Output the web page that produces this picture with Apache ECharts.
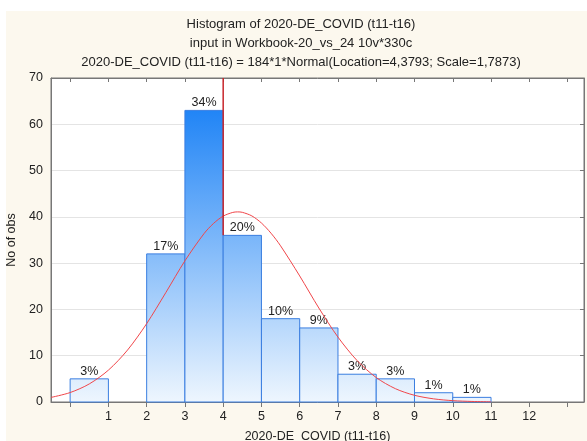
<!DOCTYPE html>
<html>
<head>
<meta charset="utf-8">
<script src="https://cdn.jsdelivr.net/npm/echarts@6/dist/echarts.min.js"></script>
<style>
  html, body { margin: 0; padding: 0; background: #fff; }
  #main { width: 587px; height: 441px; }
</style>
</head>
<body>
<div id="main"></div>
<script>
// histogram bins (left edge, right edge) and counts
var binStart = [0, 2, 3, 4, 5, 6, 7, 8, 9, 10];
var binEnd = [1, 3, 4, 5, 6, 7, 8, 9, 10, 11];
var counts = [5, 32, 63, 36, 18, 16, 6, 5, 2, 1];
var pctLabels = ['3%', '17%', '34%', '20%', '10%', '9%', '3%', '3%', '1%', '1%'];

// fitted normal curve
var curveX = [-0.5, 0, 0.5, 1, 1.5, 2, 2.5, 3, 3.5, 3.75, 4, 4.25, 4.375, 4.5, 4.75, 5, 5.25, 5.5, 6, 6.5, 7, 7.5, 8, 8.5, 9, 9.5, 10, 10.5, 11];
var curveY = [0.99, 2.04, 3.9, 6.88, 11.22, 16.93, 23.63, 30.5, 36.39, 38.6, 40.16, 40.96, 41.07, 40.98, 40.2, 38.67, 36.47, 33.74, 27.23, 20.31, 14.02, 8.95, 5.28, 2.88, 1.45, 0.68, 0.29, 0.12, 0.04];

// red marker line
var markX = [4, 4];
var markY = [36, 70];

var xTicks = [0, 1, 2, 3, 4, 5, 6, 7, 8, 9, 10, 11, 12, 13];
var xLabels = [1, 2, 3, 4, 5, 6, 7, 8, 9, 10, 11, 12];

var titleLines = [
    'Histogram of 2020-DE_COVID (t11-t16)',
    'input in Workbook-20_vs_24 10v*330c',
    '2020-DE_COVID (t11-t16) = 184*1*Normal(Location=4,3793; Scale=1,7873)'
];

var FONT = '"Liberation Sans", Arial, sans-serif';

var barData = [];
for (var i = 0; i < counts.length; i++) {
    barData.push([binStart[i], binEnd[i], counts[i]]);
}
var curveData = [];
for (var j = 0; j < curveX.length; j++) {
    curveData.push([curveX[j], curveY[j]]);
}
var markData = [[markX[0], markY[0]], [markX[1], markY[1]]];

var myChart = echarts.init(document.getElementById('main'));

var grad = new echarts.graphic.LinearGradient(0, 78, 0, 402, [
    { offset: 0, color: '#0a78f5' },
    { offset: 1, color: '#eef6fe' }
], true);

function renderBar(params, api) {
    var p0 = api.coord([api.value(0), api.value(2)]);
    var p1 = api.coord([api.value(1), 0]);
    return {
        type: 'group',
        children: [{
            type: 'rect',
            shape: { x: p0[0], y: p0[1], width: p1[0] - p0[0], height: p1[1] - p0[1] },
            style: { fill: grad, stroke: '#3a7ee0', lineWidth: 1 }
        }, {
            type: 'text',
            style: {
                text: pctLabels[params.dataIndex],
                x: (p0[0] + p1[0]) / 2,
                y: p0[1] - 1,
                align: 'center',
                verticalAlign: 'bottom',
                fill: '#222',
                fontSize: 12.5,
                fontFamily: FONT
            }
        }]
    };
}

var axisLineStyle = { color: '#777', width: 1 };

var option = {
    backgroundColor: '#fff',
    animation: false,
    textStyle: { fontFamily: FONT },
    graphic: {
        elements: [{
            type: 'rect',
            left: 6,
            top: 11,
            z: -100,
            shape: { width: 581, height: 430 },
            style: { fill: '#fcf8ee' }
        }]
    },
    title: {
        text: titleLines.join('\n'),
        left: 296,
        top: 10,
        textAlign: 'center',
        textStyle: { fontSize: 13, fontWeight: 'normal', color: '#222', lineHeight: 19, fontFamily: FONT }
    },
    grid: {
        left: 51, right: 3, top: 78, bottom: 39,
        outerBoundsMode: 'none',
        containLabel: false,
        show: true, backgroundColor: '#fff', borderColor: '#777', borderWidth: 1
    },
    xAxis: [{
        type: 'value',
        position: 'bottom',
        min: -0.5,
        max: 13.43,
        name: '2020-DE_COVID (t11-t16)',
        nameLocation: 'middle',
        nameGap: 28,
        nameTextStyle: { fontSize: 12.5, color: '#222', fontFamily: FONT },
        axisLine: { show: true, onZero: false, lineStyle: axisLineStyle },
        axisTick: { show: true, customValues: xTicks, length: 5, lineStyle: axisLineStyle },
        axisLabel: { customValues: xLabels, color: '#222', fontSize: 12.5, margin: 8, fontFamily: FONT },
        splitLine: { show: false }
    }, {
        type: 'value',
        position: 'top',
        min: -0.5,
        max: 13.43,
        axisLine: { show: true, onZero: false, lineStyle: axisLineStyle },
        axisTick: { show: true, inside: true, customValues: xTicks, length: 4, lineStyle: axisLineStyle },
        axisLabel: { show: false },
        splitLine: { show: false }
    }],
    yAxis: [{
        type: 'value',
        position: 'left',
        min: 0,
        max: 70,
        interval: 10,
        name: 'No of obs',
        nameLocation: 'middle',
        nameGap: 28,
        nameTextStyle: { fontSize: 12.5, color: '#222', fontFamily: FONT },
        axisLine: { show: true, onZero: false, lineStyle: axisLineStyle },
        axisTick: { show: false },
        axisLabel: { color: '#222', fontSize: 12.5, margin: 8, fontFamily: FONT },
        splitLine: { show: true, lineStyle: { color: '#e4e4e4', width: 1 } }
    }, {
        type: 'value',
        position: 'right',
        min: 0,
        max: 70,
        interval: 10,
        axisLine: { show: true, onZero: false, lineStyle: axisLineStyle },
        axisTick: { show: true, inside: true, length: 4, lineStyle: axisLineStyle },
        axisLabel: { show: false },
        splitLine: { show: false }
    }],
    series: [{
        name: 'counts',
        type: 'custom',
        xAxisIndex: 0,
        yAxisIndex: 0,
        renderItem: renderBar,
        data: barData,
        z: 2
    }, {
        name: 'normal',
        type: 'line',
        xAxisIndex: 0,
        yAxisIndex: 0,
        smooth: 0.3,
        symbol: 'none',
        lineStyle: { color: '#f0464a', width: 1 },
        data: curveData,
        z: 3
    }, {
        name: 'marker',
        type: 'line',
        xAxisIndex: 0,
        yAxisIndex: 0,
        symbol: 'none',
        lineStyle: { color: '#c8262c', width: 1.5 },
        data: markData,
        z: 4
    }]
};

myChart.setOption(option);
</script>
</body>
</html>
